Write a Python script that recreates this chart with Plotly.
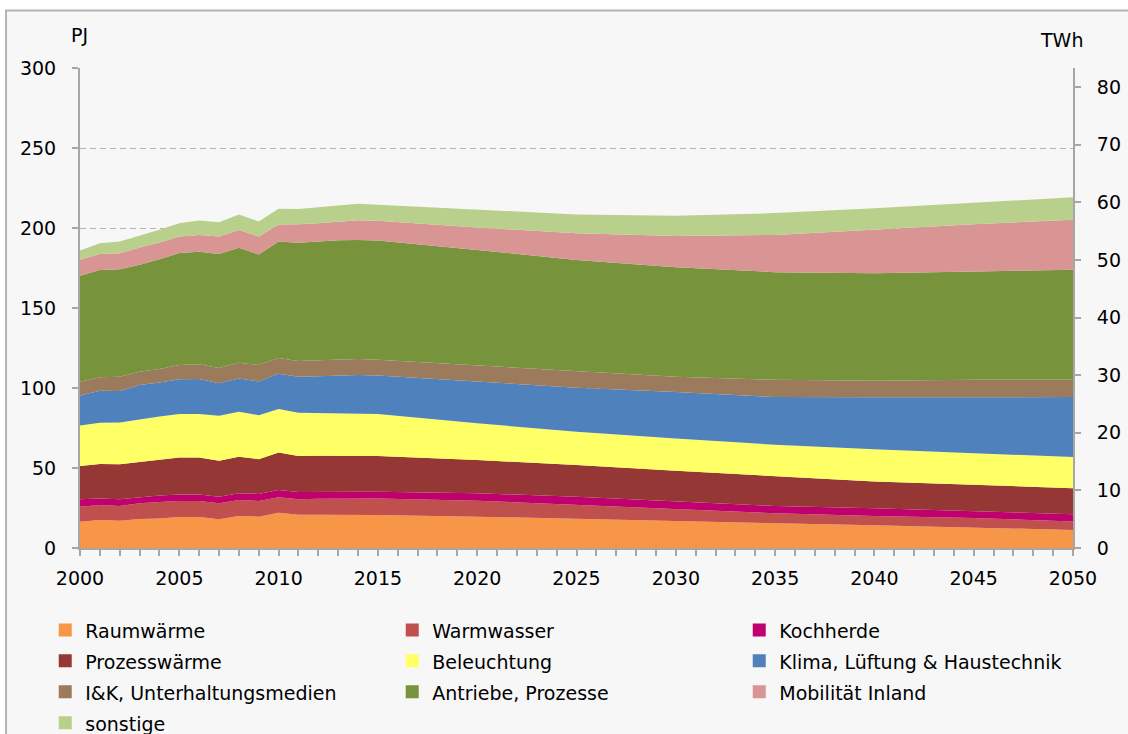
import plotly.graph_objects as go

# Years: annual history up to 2015, then scenario steps of five years
years = [2000, 2001, 2002, 2003, 2004, 2005, 2006, 2007, 2008, 2009, 2010,
         2011, 2012, 2013, 2014, 2015, 2020, 2025, 2030, 2035, 2040, 2045, 2050]

# Electricity use by purpose, PJ
raumwaerme = [16.4, 17.5, 17.1, 18.1, 18.5, 19.4, 19.4, 17.9, 20.0, 19.6, 22.1,
              20.8, 20.8, 20.8, 20.8, 20.6, 19.6, 18.1, 16.9, 15.4, 14.2, 12.9, 11.3]
warmwasser = [9.4, 9.4, 9.2, 9.8, 10.3, 10.0, 10.0, 10.0, 10.0, 9.8, 9.6,
              9.6, 10.0, 10.2, 10.2, 10.4, 10.0, 8.8, 7.5, 6.3, 5.8, 5.9, 5.3]
kochherde = [4.6, 4.1, 4.1, 3.8, 4.0, 4.1, 4.1, 4.2, 4.2, 4.4, 4.6,
             4.6, 4.4, 4.2, 4.2, 4.2, 4.6, 5.2, 4.6, 4.6, 4.8, 4.0, 4.5]
prozesswaerme = [20.9, 21.5, 21.9, 22.1, 22.3, 23.0, 23.0, 22.5, 22.9, 21.7, 23.4,
                 22.5, 22.5, 22.5, 22.7, 22.3, 20.8, 19.8, 19.3, 18.4, 16.7, 16.7, 16.3]
beleuchtung = [25.3, 25.8, 26.2, 26.7, 27.1, 27.3, 27.3, 28.1, 28.1, 27.5, 27.1,
               27.1, 26.7, 26.7, 26.3, 26.3, 22.9, 20.8, 20.2, 19.8, 20.2, 19.8, 19.4]
klima = [18.7, 20.0, 19.6, 21.3, 21.2, 21.7, 21.9, 20.2, 20.8, 21.1, 22.1,
         22.5, 22.9, 23.3, 23.9, 24.0, 26.1, 27.5, 29.0, 29.8, 32.5, 35.0, 37.5]
iuk = [8.6, 8.4, 8.9, 8.3, 8.4, 8.8, 9.2, 9.6, 9.8, 10.2, 9.8,
       9.8, 10.0, 9.8, 10.0, 9.8, 10.0, 10.4, 9.6, 10.8, 10.4, 10.8, 10.8]
antriebe = [66.3, 67.1, 67.2, 66.9, 68.7, 70.0, 70.2, 71.3, 71.9, 69.1, 72.8,
            73.9, 74.2, 74.8, 74.4, 74.6, 72.3, 69.4, 68.3, 67.3, 67.1, 67.9, 68.8]
mobilitaet = [10.0, 10.0, 10.0, 10.8, 10.4, 10.4, 10.6, 10.9, 11.1, 11.3, 10.7,
              11.5, 11.4, 11.5, 12.3, 12.3, 14.0, 16.7, 19.6, 23.3, 27.5, 29.4, 31.3]
sonstige = [5.8, 6.7, 7.3, 7.3, 8.0, 8.3, 9.0, 8.9, 9.6, 9.4, 9.8,
            9.6, 10.0, 10.5, 10.4, 10.0, 11.0, 11.8, 12.7, 13.6, 13.1, 13.5, 14.0]

series = [
    ("Raumwärme", raumwaerme, "#F79646"),
    ("Warmwasser", warmwasser, "#C0504D"),
    ("Kochherde", kochherde, "#C0006E"),
    ("Prozesswärme", prozesswaerme, "#953735"),
    ("Beleuchtung", beleuchtung, "#FFFF66"),
    ("Klima, Lüftung & Haustechnik", klima, "#4F81BD"),
    ("I&K, Unterhaltungsmedien", iuk, "#9C7B5C"),
    ("Antriebe, Prozesse", antriebe, "#77933C"),
    ("Mobilität Inland", mobilitaet, "#D99594"),
    ("sonstige", sonstige, "#B9D08C"),
]

FONT = "DejaVu Sans"
AXIS_GREY = "#A6A6A6"

fig = go.Figure()

# stacked areas
for name, vals, color in series:
    fig.add_trace(go.Scatter(
        x=years, y=vals, stackgroup="one", mode="lines",
        line=dict(width=0, color=color), fillcolor=color,
        name=name, showlegend=False, hoverinfo="x+y+name",
    ))

# square legend swatches
for name, vals, color in series:
    fig.add_trace(go.Scatter(
        x=[None], y=[None], mode="markers",
        marker=dict(symbol="square", size=13, color=color),
        name='<span style="font-size:19px">%s</span>' % name.replace("&", "&amp;"),
        showlegend=True,
    ))

# invisible trace to activate the TWh axis
fig.add_trace(go.Scatter(x=[None], y=[None], yaxis="y2", showlegend=False,
                         hoverinfo="skip"))

fig.update_layout(
    width=1128, height=734,
    margin=dict(l=80, r=55, t=68, b=186, autoexpand=False),
    paper_bgcolor="white",
    plot_bgcolor="rgba(0,0,0,0)",
    font=dict(family=FONT, size=19, color="black"),
    xaxis=dict(
        range=[2000, 2050], tick0=2000, dtick=5,
        ticks="outside", ticklen=6, tickcolor=AXIS_GREY, tickwidth=1.5,
        minor=dict(dtick=1, ticks="outside", ticklen=6, tickcolor=AXIS_GREY,
                   tickwidth=1.5, showgrid=False),
        showline=True, linecolor=AXIS_GREY, linewidth=2,
        showgrid=False, zeroline=False, ticklabelstandoff=6,
        tickfont=dict(family=FONT, size=19),
    ),
    yaxis=dict(
        range=[0, 300], dtick=50,
        ticks="outside", ticklen=6, tickcolor=AXIS_GREY, tickwidth=1.5,
        showline=True, linecolor=AXIS_GREY, linewidth=2,
        showgrid=True, gridcolor="#B4B4B4", gridwidth=1.2, griddash="6px,4px",
        zeroline=False, ticklabelstandoff=12,
        tickfont=dict(family=FONT, size=19),
    ),
    yaxis2=dict(
        range=[0, 300 / 3.6], dtick=10, overlaying="y", side="right",
        ticks="outside", ticklen=6, tickcolor=AXIS_GREY, tickwidth=1.5,
        showline=True, linecolor=AXIS_GREY, linewidth=2,
        showgrid=False, zeroline=False, ticklabelstandoff=12,
        tickfont=dict(family=FONT, size=19),
    ),
    legend=dict(
        orientation="h", x=-0.035, xanchor="left", y=-0.128, yanchor="top",
        entrywidth=302, entrywidthmode="pixels", traceorder="normal",
        font=dict(family=FONT, size=21.5), bgcolor="rgba(0,0,0,0)",
        itemclick=False, itemdoubleclick=False,
    ),
    shapes=[dict(
        type="rect", xref="paper", yref="paper", layer="below",
        x0=-0.0745, x1=1.07, y0=-0.42, y1=1.1198,
        fillcolor="#F7F7F7", line=dict(color="#B4B4B4", width=2),
    )],
    annotations=[
        dict(text="PJ", xref="paper", yref="paper", x=-0.001, y=1.069,
             xanchor="center", yanchor="middle", showarrow=False,
             font=dict(family=FONT, size=19)),
        dict(text="TWh", xref="paper", yref="paper", x=0.988, y=1.058,
             xanchor="center", yanchor="middle", showarrow=False,
             font=dict(family=FONT, size=19)),
    ],
)

fig.write_html("out.html")
